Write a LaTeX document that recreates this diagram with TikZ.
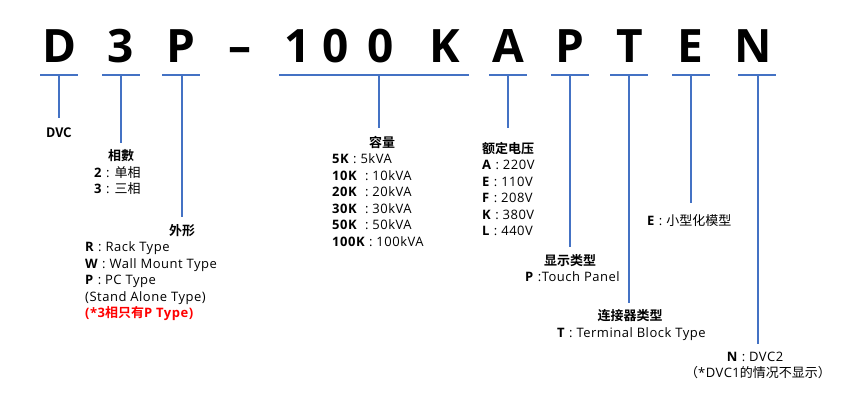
\documentclass[tikz,border=0pt]{standalone}
\usepackage{fontspec}
\setmainfont{Open Sans}
\newfontfamily\itemfont{Open Sans}[LetterSpace=4]
\newfontfamily\cjk{Noto Sans CJK SC}[BoldFont={Noto Sans CJK SC Bold}]
\usepackage{xcolor}
\usetikzlibrary{positioning}
\definecolor{BarBlue}{RGB}{68,114,196}
\definecolor{NoteRed}{RGB}{255,0,0}

\begin{document}
\begin{tikzpicture}[x=1pt,y=-1pt,
   codechar/.style={font=\fontsize{46}{46}\selectfont\bfseries,inner sep=0,anchor=base},
   headlbl/.style={font=\fontsize{13}{16}\selectfont\bfseries\cjk,inner sep=0,anchor=base},
   itemlbl/.style={font=\fontsize{13}{16}\selectfont\itemfont,inner sep=0,anchor=base west},
   bar/.style={draw=BarBlue,line width=1.8pt}]
  \useasboundingbox (0,0) rectangle (850,400);
  % model code letters
  \foreach \n/\x/\c in {cD/60/D,c3/121/3,cP/181/P,cdash/240/{--},c1/298/1,c0a/336/0,c0b/381/0,
                        cK/445/K,cA/508/A,cPb/570/P,cT/630/T,cE/690/E,cN/753/N}{
    \node[codechar] (\n) at (\x,62) {\c};
  }
  % brackets: underline and stem
  \foreach \n/\a/\b/\m/\e in {d/40/78/59/118,n/102/140/121/143,s/162/200/182/217,
                              c/279/469/379/128,v/489/527/508/128,p/551/589/570/247,
                              t/610/648/629/303,e/672/710/691/203,k/738/776/758/344}{
    \coordinate (\n L) at (\a,75);
    \coordinate (\n R) at (\b,75);
    \coordinate (\n M) at (\m,75);
    \coordinate (\n E) at (\m,\e);
    \draw[bar] (\n L) -- (\n R);
    \draw[bar] (\n M) -- (\n E);
  }
  % DVC
  \node[headlbl] (hd) at (59,137) {DVC};
  % phases
  \node[headlbl] (hn) at (121,160) {相數};
  \node[itemlbl] (n1) at (94,177.5) {\textbf{2} : {\cjk 单相}};
  \node[itemlbl] (n2) at (94,193.5) {\textbf{3} : {\cjk 三相}};
  % shape
  \node[headlbl] (hs) at (182,235) {外形};
  \foreach \t [count=\i from 0] in {{\textbf{R} : Rack Type},{\textbf{W} : Wall Mount Type},
      {\textbf{P} : PC Type},{(Stand Alone Type)}}{
    \node[itemlbl] (s\i) at (85,251.5+16.5*\i) {\t};
  }
  \node[itemlbl,text=NoteRed,font=\fontsize{13}{16}\selectfont\itemfont\bfseries] (s4) at (85,317.5)
    {(*3{\cjk 相只有}P Type)};
  % capacity
  \node[headlbl] (hc) at (382,147) {容量};
  \foreach \t [count=\i from 0] in {{\textbf{5K} : 5kVA},{\textbf{10K}\ \ : 10kVA},{\textbf{20K}\ \ : 20kVA},
      {\textbf{30K}\ \ : 30kVA},{\textbf{50K}\ \ : 50kVA},{\textbf{100K} : 100kVA}}{
    \node[itemlbl] (c\i) at (332,163.5+16.6*\i) {\t};
  }
  % rated voltage
  \node[headlbl] (hv) at (508,153) {额定电压};
  \foreach \t [count=\i from 0] in {{\textbf{A} : 220V},{\textbf{E} : 110V},{\textbf{F} : 208V},
      {\textbf{K} : 380V},{\textbf{L} : 440V}}{
    \node[itemlbl] (v\i) at (482,169.5+16.5*\i) {\t};
  }
  % display / connector / size / version
  \node[headlbl] (hp) at (570,265) {显示类型};
  \node[itemlbl] (p0) at (525,281.5) {\textbf{P} :Touch Panel};
  \node[headlbl] (ht) at (630,320) {连接器类型};
  \node[itemlbl] (t0) at (557,337.5) {\textbf{T} : Terminal Block Type};
  \node[itemlbl] (e0) at (647,225.5) {\textbf{E} : {\cjk 小型化模型}};
  \node[itemlbl,anchor=base] (k0) at (755,361.5) {\textbf{N} : DVC2};
  \node[itemlbl,anchor=base] (k1) at (758,377.5) {{\cjk （}*DVC1{\cjk 的情况不显示）}};
\end{tikzpicture}
\end{document}
